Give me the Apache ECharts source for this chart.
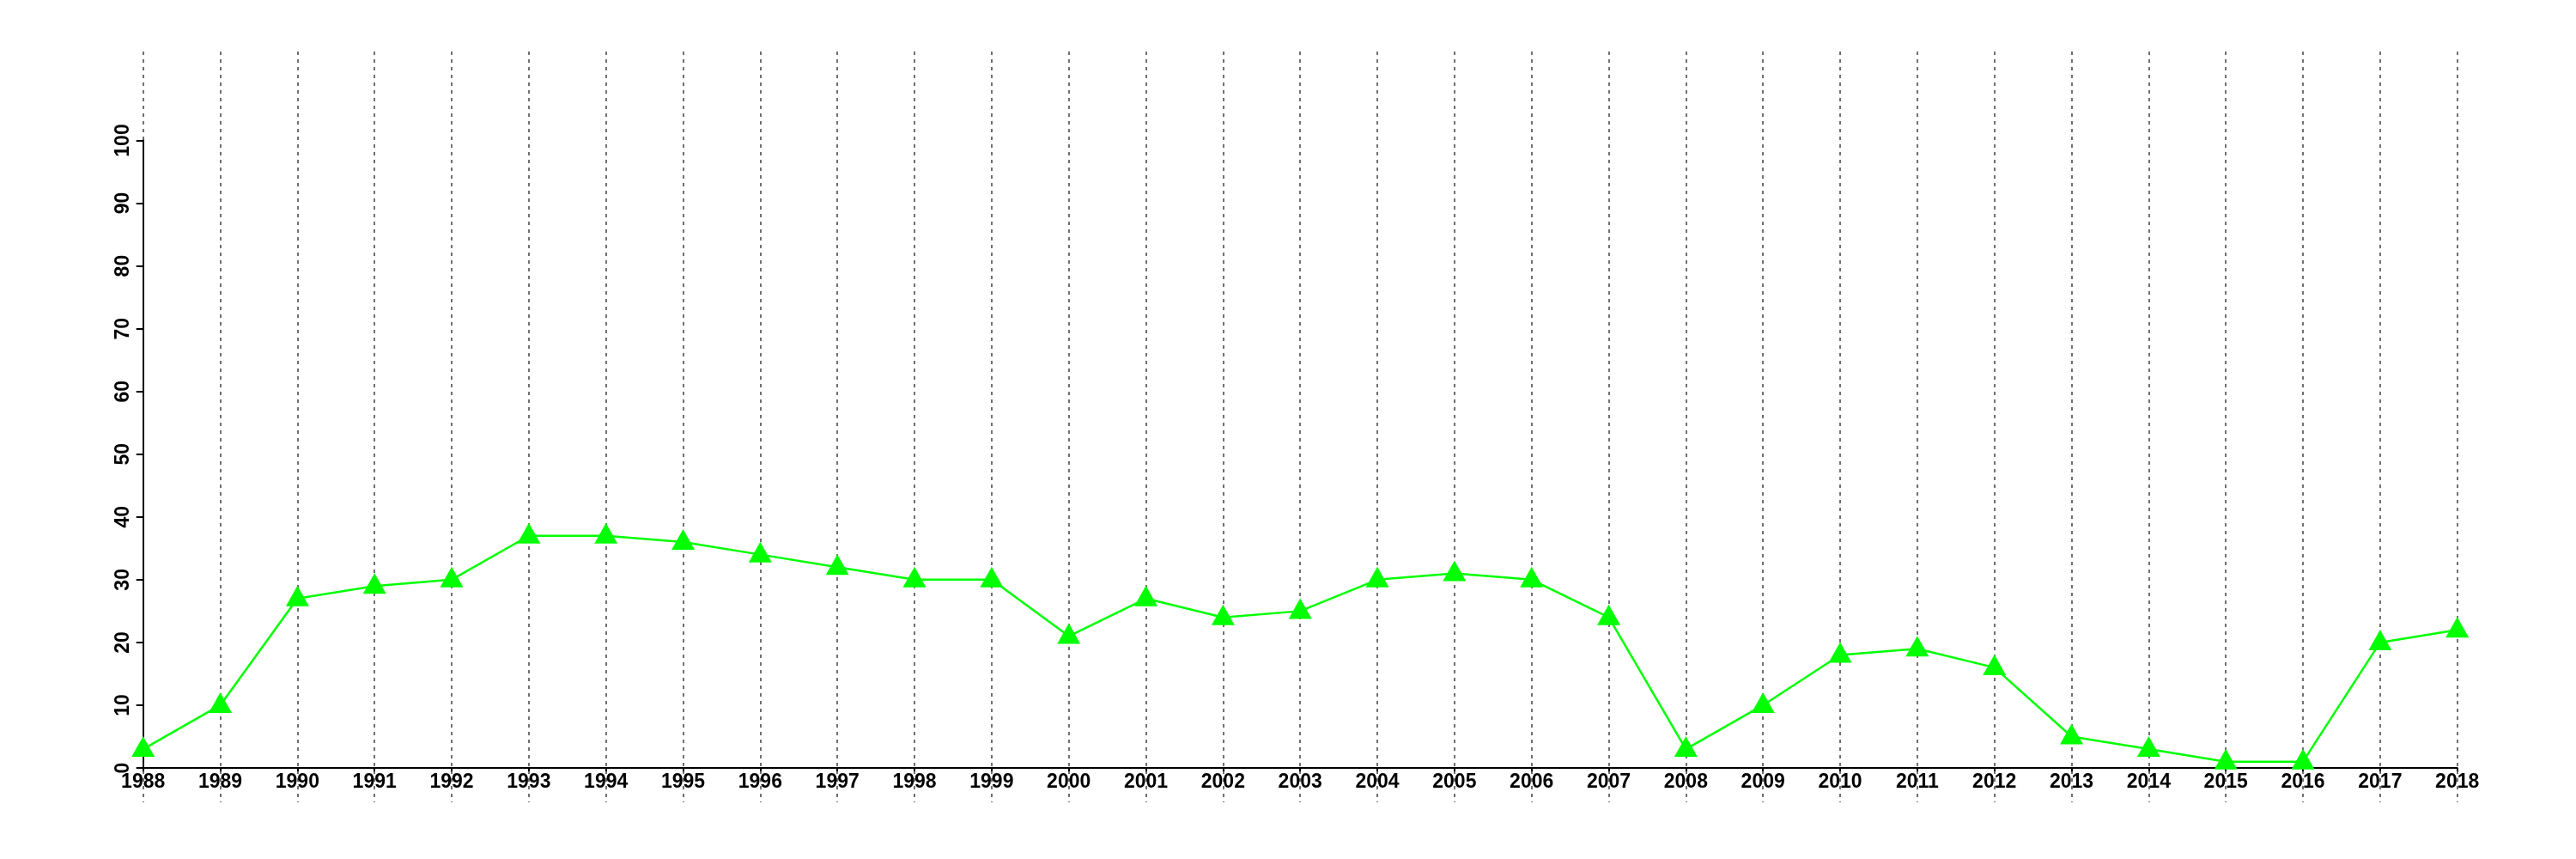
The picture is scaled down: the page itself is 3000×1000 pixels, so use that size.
<!DOCTYPE html>
<html>
<head>
<meta charset="utf-8">
<script src="https://cdn.jsdelivr.net/npm/echarts@6/dist/echarts.min.js"></script>
<style>
html,body{margin:0;padding:0;background:#fff;}
#chart{width:3000px;height:1000px;}
</style>
</head>
<body>
<div id="chart"></div>
<script>
const years = ['1988','1989','1990','1991','1992','1993','1994','1995','1996','1997','1998','1999','2000','2001','2002','2003','2004','2005','2006','2007','2008','2009','2010','2011','2012','2013','2014','2015','2016','2017','2018'];
const values = [3,10,27,29,30,37,37,36,34,32,30,30,21,27,24,25,30,31,30,24,3,10,18,19,16,5,3,1,1,20,22];
const yMin = 0;
const yMax = 100;
const yStep = 10;

const FONT = 'Liberation Sans';
const chart = echarts.init(document.getElementById('chart'), null, {renderer: 'canvas'});
chart.setOption({
  backgroundColor: '#ffffff',
  animation: false,
  grid: [
    {left: 166.7, right: 138.3, top: 60, bottom: 66},
    {left: 166.7, right: 138.3, top: 163.5, bottom: 106}
  ],
  xAxis: [
    {
      gridIndex: 0, type: 'category', data: years, boundaryGap: false,
      axisLine: {show: false}, axisTick: {show: false}, axisLabel: {show: false},
      splitLine: {show: true, lineStyle: {color: '#707070', width: 2, type: [4, 5]}}
    },
    {
      gridIndex: 1, type: 'category', data: years, boundaryGap: false,
      axisLine: {show: true, onZero: false, lineStyle: {color: '#000', width: 2}},
      axisTick: {show: true, length: 4, lineStyle: {color: '#000', width: 2}},
      axisLabel: {show: true, interval: 0, margin: 5, color: '#000', fontFamily: FONT, fontWeight: 'bold', fontSize: 23},
      splitLine: {show: false}
    }
  ],
  yAxis: [
    {gridIndex: 0, type: 'value', min: 0, max: 1, show: false, splitLine: {show: false}},
    {
      gridIndex: 1, type: 'value', min: yMin, max: yMax, interval: yStep,
      axisLine: {show: true, lineStyle: {color: '#000', width: 2}},
      axisTick: {show: true, length: 8, lineStyle: {color: '#000', width: 2}},
      axisLabel: {show: true, rotate: 90, margin: 12, color: '#000', fontFamily: FONT, fontWeight: 'bold', fontSize: 23},
      splitLine: {show: false}
    }
  ],
  series: [
    {
      type: 'line', xAxisIndex: 1, yAxisIndex: 1, data: values,
      symbol: 'triangle', symbolSize: [27, 24], symbolOffset: [0, -3],
      itemStyle: {color: '#00ff00'},
      lineStyle: {color: '#00ff00', width: 2.5},
      z: 5
    }
  ]
});
</script>
</body>
</html>
